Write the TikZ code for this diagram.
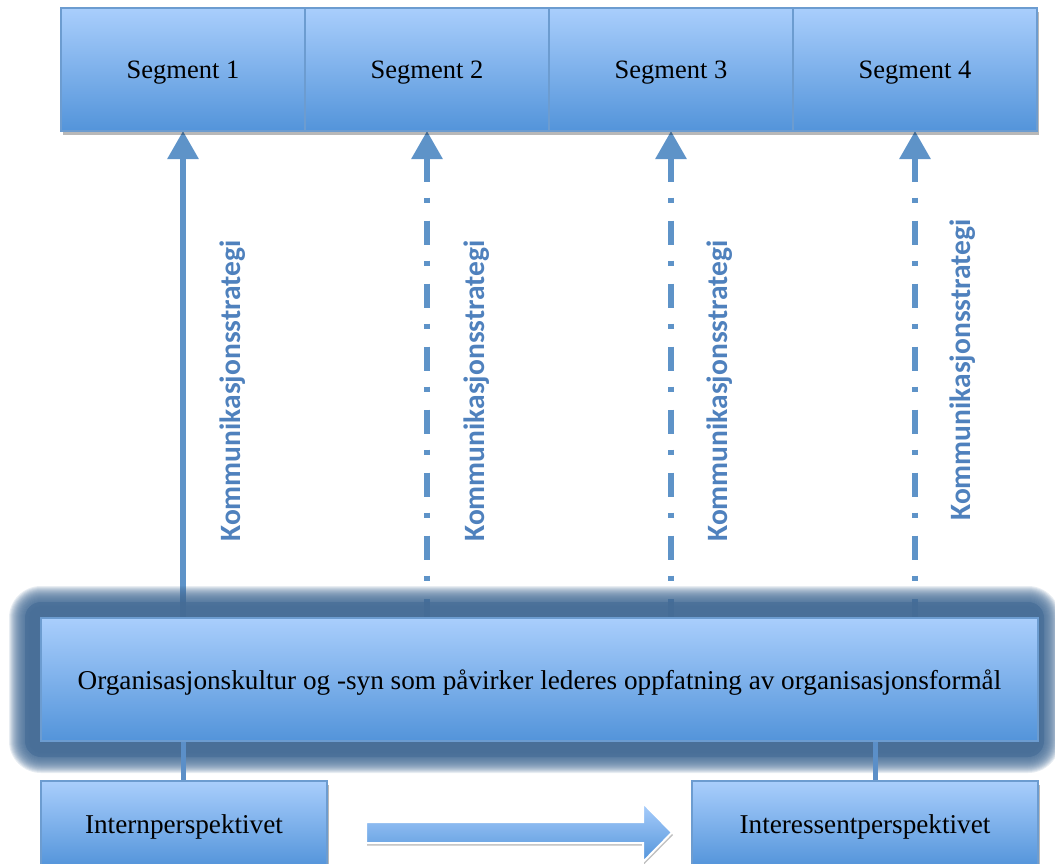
\documentclass[tikz,border=0pt]{standalone}
\usepackage{fontspec}
\setmainfont{Liberation Serif}
\newfontfamily\kfont{Carlito}
\usetikzlibrary{arrows.meta,shadows,calc}
\definecolor{boxtop}{HTML}{A9CEFC}
\definecolor{boxbot}{HTML}{5394DA}
\definecolor{boxline}{HTML}{6C9CD0}
\definecolor{arrowc}{HTML}{5E93C8}
\definecolor{connc}{HTML}{5B8FC8}
\definecolor{labelc}{HTML}{4F81BD}
\definecolor{glowc}{HTML}{456C96}
\pgfdeclarelayer{under}
\pgfdeclarelayer{glow}
\pgfdeclarelayer{mid}
\pgfsetlayers{under,glow,mid,main}
\begin{document}
\begin{tikzpicture}[x=1pt,y=-1pt,
  box/.style={draw=boxline, line width=1.2pt, top color=boxtop, bottom color=boxbot,
    inner sep=0pt, outer sep=0pt, text depth=0pt, font=\fontsize{27.2}{30}\selectfont, text=black},
  segbox/.style={box, font=\fontsize{26.5}{30}\selectfont},
  boxshadow/.style={drop shadow={shadow xshift=1.5pt, shadow yshift=-3.5pt, fill=black, opacity=0.28}},
  solidarr/.style={draw=arrowc, line width=6pt, -{Triangle[width=30pt,length=28pt]}},
  dasharr/.style={draw=arrowc, line width=6pt, {Triangle[width=30pt,length=28pt]}-,
    dash pattern=on 24pt off 16pt on 5pt off 18pt},
  conn/.style={draw=connc, line width=5pt},
  klabel/.style={font=\kfont\bfseries\fontsize{29.5}{32}\selectfont, text=labelc, inner sep=0pt},
  bigarrow/.style={draw=white, line width=2pt, top color=boxtop, bottom color=boxbot,
    drop shadow={shadow xshift=1pt, shadow yshift=-2.5pt, fill=black, opacity=0.25}}
]
\useasboundingbox (0,0) rectangle (1055,863);

% top segments
\node[segbox, boxshadow, minimum width=244pt, minimum height=123pt, anchor=north west] (s1) at (61,8) {Segment 1};
\node[segbox, boxshadow, minimum width=244pt, minimum height=123pt, anchor=north west] (s2) at (305,8) {Segment 2};
\node[segbox, boxshadow, minimum width=244pt, minimum height=123pt, anchor=north west] (s3) at (549,8) {Segment 3};
\node[segbox, boxshadow, minimum width=244pt, minimum height=123pt, anchor=north west] (s4) at (793,8) {Segment 4};

% central box
\node[box, minimum width=997pt, minimum height=123pt, anchor=north west] (org) at (41,618)
  {Organisasjonskultur og -syn som påvirker lederes oppfatning av organisasjonsformål};

% bottom boxes
\node[box, boxshadow, minimum width=286pt, minimum height=86pt, anchor=north west] (ip) at (41,781) {Internperspektivet};
\node[box, boxshadow, minimum width=346pt, minimum height=86pt, anchor=north west] (ia) at (692,781) {Interessentperspektivet};

% labels
\node[klabel, rotate=90] (k1) at (233,391) {Kommunikasjonsstrategi};
\node[klabel, rotate=90] (k2) at (477,391) {Kommunikasjonsstrategi};
\node[klabel, rotate=90] (k3) at (720,391) {Kommunikasjonsstrategi};
\node[klabel, rotate=90] (k4) at (963,370) {Kommunikasjonsstrategi};

% arrows to segments
\begin{pgfonlayer}{under}
\draw[solidarr] (s1.south |- org.north) -- (s1.south);
\draw[dasharr] (s2.south) -- (s2.south |- org.north);
\draw[dasharr] (s3.south) -- (s3.south |- org.north);
\draw[dasharr] (s4.south) -- (s4.south |- org.north);
\end{pgfonlayer}

% soft glow around the central box
\begin{pgfonlayer}{glow}
\fill[glowc, fill opacity=0.65, rounded corners=16pt]
  ([xshift=-16pt, yshift=-16pt]org.south west) rectangle ([xshift=6pt, yshift=16pt]org.north east);
\foreach \d in {12,13,...,32} {
  \pgfmathsetmacro\gr{\d-10}
  \fill[glowc, fill opacity=0.12, rounded corners=\d pt]
    ([xshift=-\d pt, yshift=-\d pt]org.south west) rectangle ([xshift=\gr pt, yshift=\d pt]org.north east);
}
\end{pgfonlayer}

% connectors to bottom boxes
\begin{pgfonlayer}{mid}
\draw[conn] (ip.north -| s1.south) -- (org.south -| s1.south);
\draw[conn] ([xshift=10pt]ia.north) -- ([xshift=10pt]ia.north |- org.south);
\end{pgfonlayer}

% big arrow
\path[bigarrow] (366,822) -- (643,822) -- (643,803) -- (672,832.5) -- (643,862) -- (643,843) -- (366,843) -- cycle;
\end{tikzpicture}
\end{document}
